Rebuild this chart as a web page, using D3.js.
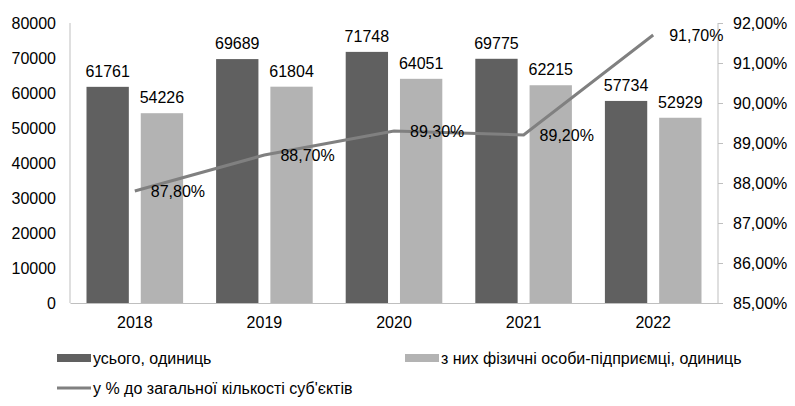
<!DOCTYPE html>
<html><head><meta charset="utf-8">
<script src="https://cdn.jsdelivr.net/npm/d3@7"></script>
<style>body{margin:0;background:#fff}text{font-family:"Liberation Sans",Arial,sans-serif;fill:#000}</style>
</head><body><svg id="c" width="795" height="406"></svg>
<script>
const years = ["2018","2019","2020","2021","2022"];
const total = [61761,69689,71748,69775,57734];
const entrepreneurs = [54226,61804,64051,62215,52929];
const share = [87.8,88.7,89.3,89.2,91.7];
const shareLabels = ["87,80%","88,70%","89,30%","89,20%","91,70%"];
const leftTicks = [0,10000,20000,30000,40000,50000,60000,70000,80000];
const rightTicks = [85,86,87,88,89,90,91,92];
const seriesNames = ["усього, одиниць","з них фізичні особи-підприємці, одиниць","у % до загальної кількості суб'єктів"];

const svg = d3.select("#c");
const L = 70, R = 718, T = 23, B = 303;
const fs = "16px";
const x = d3.scaleBand().domain(years).range([L,R]).paddingInner(0).paddingOuter(0);
const yL = d3.scaleLinear().domain([0,80000]).range([B,T]);
const yR = d3.scaleLinear().domain([85,92]).range([B,T]);
const inner = d3.scaleBand().domain([0,1]).range([16.5, x.bandwidth()-16.5]).paddingInner(0.22);

// axes
const axL = svg.append("g").attr("transform",`translate(${L},0)`).call(d3.axisLeft(yL).tickValues(leftTicks).tickSize(0).tickPadding(14).tickFormat(d3.format("d")));
const axR = svg.append("g").attr("transform",`translate(${R},0)`).call(d3.axisRight(yR).tickValues(rightTicks).tickSize(5).tickPadding(10).tickFormat(d=>d3.format(".2f")(d).replace(".",",")+"%"));
const axB = svg.append("g").attr("transform",`translate(0,${B})`).call(d3.axisBottom(x).tickSize(0).tickPadding(14));
[axL,axR,axB].forEach(a=>{a.selectAll("path,line").attr("stroke","#bfbfbf");a.selectAll("text").style("font-size",fs).attr("fill","#000");});
axL.select(".domain").attr("d",`M0,${T}V${B}`);
axR.select(".domain").attr("d",`M0,${T}V${B}`);

const colors = ["#606060","#b3b3b3"];
const series = [total, entrepreneurs];
series.forEach((vals,si)=>{
  const g = svg.append("g");
  g.selectAll("rect").data(vals).join("rect")
    .attr("x",(d,i)=>x(years[i])+inner(si)).attr("width",inner.bandwidth())
    .attr("y",d=>yL(d)).attr("height",d=>B-yL(d)).attr("fill",colors[si]);
  g.selectAll("text").data(vals).join("text")
    .attr("x",(d,i)=>x(years[i])+inner(si)+inner.bandwidth()/2).attr("y",d=>yL(d)-10)
    .attr("text-anchor","middle").style("font-size",fs).text(d=>d);
});

const cx = (d,i)=>x(years[i])+x.bandwidth()/2;
svg.append("path").datum(share)
  .attr("d",d3.line().x(cx).y(d=>yR(d)))
  .attr("fill","none").attr("stroke","#808080").attr("stroke-width",3);
svg.append("g").selectAll("text").data(share).join("text")
  .attr("x",(d,i)=>cx(d,i)+16).attr("y",d=>yR(d)).attr("dy","0.35em")
  .style("font-size",fs).text((d,i)=>shareLabels[i]);

// legend
const leg = svg.append("g");
const items = [{x:57,y:358,type:"rect",c:colors[0],t:seriesNames[0]},{x:405,y:358,type:"rect",c:colors[1],t:seriesNames[1]},{x:57,y:388,type:"line",c:"#808080",t:seriesNames[2]}];
items.forEach(it=>{
  if(it.type==="rect") leg.append("rect").attr("x",it.x).attr("y",it.y-4).attr("width",34).attr("height",8).attr("fill",it.c);
  else leg.append("line").attr("x1",it.x).attr("x2",it.x+34).attr("y1",it.y).attr("y2",it.y).attr("stroke",it.c).attr("stroke-width",3);
  leg.append("text").attr("x",it.x+36).attr("y",it.y).attr("dy","0.35em").style("font-size",fs).text(it.t);
});
</script></body></html>
